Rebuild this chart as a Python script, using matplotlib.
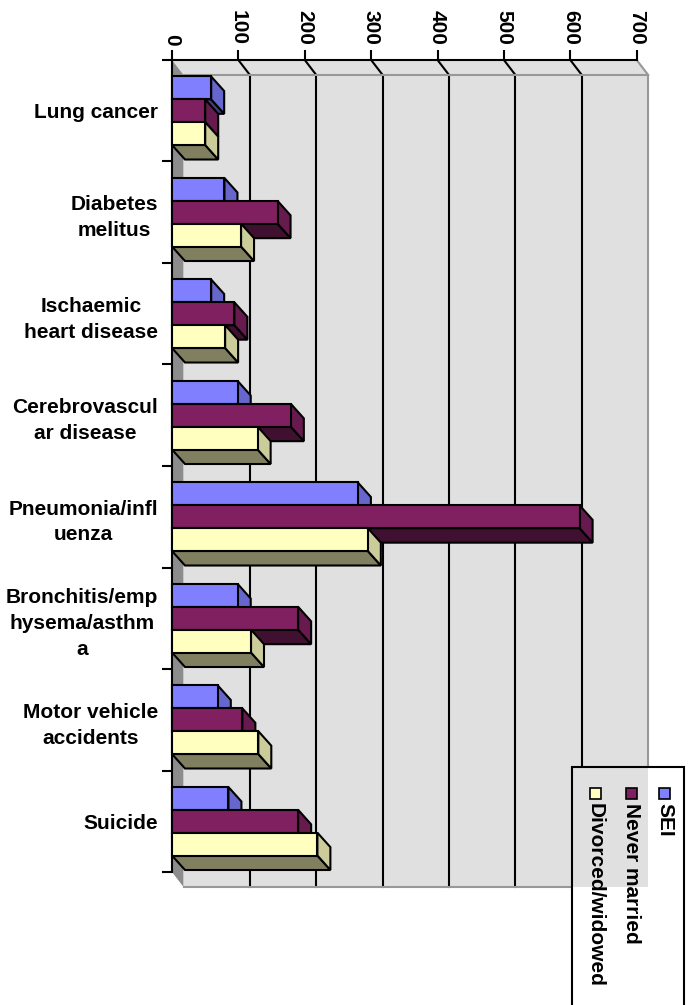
import matplotlib
matplotlib.use("Agg")
import matplotlib.pyplot as plt
from matplotlib.patches import Polygon, Rectangle
import numpy as np

# ---------------- data ----------------
categories = ["Lung cancer", "Diabetes\nmelitus", "Ischaemic\nheart disease",
              "Cerebrovascul\nar disease", "Pneumonia/infl\nuenza",
              "Bronchitis/emp\nhysema/asthm\na", "Motor vehicle\naccidents", "Suicide"]
series_names = ["SEI", "Never married", "Divorced/widowed"]
sei = [59, 79, 59, 99, 280, 99, 69, 85]
never_married = [50, 159, 94, 179, 614, 190, 106, 190]
divorced = [50, 104, 80, 129, 295, 119, 130, 219]
value_ticks = [0, 100, 200, 300, 400, 500, 600, 700]

# ---------------- style ----------------
plt.rcParams['font.family'] = ['Liberation Sans', 'DejaVu Sans']
plt.rcParams['font.weight'] = 'bold'
front_cols = ["#8080FF", "#802060", "#FFFFC0"]
side_cols = ["#6666CC", "#661A4D", "#CCCC9A"]
bottom_cols = ["#404080", "#401030", "#808060"]
wall_col = "#E0E0E0"
floor_col = "#8C8C8C"
edge_gray = "#989898"

W, H = 690, 1005
fig = plt.figure(figsize=(W / 100, H / 100), dpi=100)


def fx(px):
    return px / W


def fy(py):
    return 1 - py / H


left_px, right_px, top_px, bot_px = 172, 636.7, 60, 872
ax = fig.add_axes([fx(left_px), fy(bot_px), fx(right_px - left_px), (bot_px - top_px) / H])
ax.patch.set_visible(False)

n = len(categories)
vmax = value_ticks[-1]
ax.set_xlim(0, vmax)
ax.set_ylim(n - 0.5, -0.5)

# pixel -> data conversions for the 3D depth
ppx = (right_px - left_px) / vmax
ppy = (bot_px - top_px) / n
bdx, bdy = 13 / ppx, 14.5 / ppy      # bar depth
wdx, wdy = 11.5 / ppx, 15 / ppy      # wall depth

y_top, y_bot = -0.5, n - 0.5

# ---------------- walls ----------------
back_pts = [(wdx, y_top + wdy), (vmax + wdx, y_top + wdy), (vmax + wdx, y_bot + wdy), (wdx, y_bot + wdy)]
ax.add_patch(Polygon(back_pts, closed=True, facecolor=wall_col, edgecolor='none', zorder=0.5, clip_on=False))
ax.add_patch(Polygon([(0, y_top), (vmax, y_top), (vmax + wdx, y_top + wdy), (wdx, y_top + wdy)],
                     closed=True, facecolor=wall_col, edgecolor='none', zorder=0.5, clip_on=False))
ax.add_patch(Polygon([(0, y_top), (wdx, y_top + wdy), (wdx, y_bot + wdy), (0, y_bot)],
                     closed=True, facecolor=floor_col, edgecolor='none', zorder=0.6, clip_on=False))

for t in value_ticks[1:-1]:
    ax.plot([t + wdx, t + wdx], [y_top + wdy, y_bot + wdy], color='black', lw=1.5, zorder=1, clip_on=False)
    ax.plot([t, t + wdx], [y_top, y_top + wdy], color='black', lw=1.5, zorder=1, clip_on=False)

# wall edges (gray)
ax.plot([wdx, vmax + wdx, vmax + wdx, wdx], [y_top + wdy, y_top + wdy, y_bot + wdy, y_bot + wdy],
        color=edge_gray, lw=1.5, zorder=1.1, clip_on=False)
ax.plot([vmax, vmax + wdx], [y_top, y_top + wdy], color=edge_gray, lw=1.5, zorder=1.1, clip_on=False)

# ---------------- bars ----------------
h = 0.225
series = [sei, never_married, divorced]
ypos = np.arange(n)
for s, vals in enumerate(series):
    off = (s - 1) * h
    for k, v in enumerate(vals):
        y0 = k + off - h / 2
        y1 = y0 + h
        ax.add_patch(Polygon([(0, y1), (v, y1), (v + bdx, y1 + bdy), (bdx, y1 + bdy)], closed=True,
                             facecolor=bottom_cols[s], edgecolor='black', lw=1.5, zorder=3 + 2 * s,
                             clip_on=False, joinstyle='miter'))
        ax.add_patch(Polygon([(v, y0), (v + bdx, y0 + bdy), (v + bdx, y1 + bdy), (v, y1)], closed=True,
                             facecolor=side_cols[s], edgecolor='black', lw=1.5, zorder=3 + 2 * s,
                             clip_on=False, joinstyle='miter'))
    ax.barh(ypos + off, vals, height=h, left=0, color=front_cols[s], edgecolor='black',
            linewidth=1.5, zorder=4 + 2 * s, clip_on=False)

# ---------------- axes ----------------
for sp in ['right', 'bottom']:
    ax.spines[sp].set_visible(False)
for sp in ['left', 'top']:
    ax.spines[sp].set_linewidth(1.5)
    ax.spines[sp].set_zorder(2.5)

ax.xaxis.tick_top()
ax.set_xticks(value_ticks)
ax.set_xticklabels([str(t) for t in value_ticks])
ax.tick_params(axis='x', direction='out', length=7.2, width=1.5, pad=3.5, labelsize=15, labelrotation=-90)

ax.set_yticks(np.arange(n + 1) - 0.5)
ax.set_yticklabels([])
ax.set_yticks(ypos, minor=True)
ax.set_yticklabels(categories, minor=True)
ax.tick_params(axis='y', which='major', direction='out', length=7.2, width=1.5)
ax.tick_params(axis='y', which='minor', length=0, pad=10, labelsize=15)
for lbl in ax.get_yticklabels(minor=True):
    lbl.set_multialignment('center')
    lbl.set_linespacing(1.45)

# ---------------- legend (rotated, manual) ----------------
leg_l, leg_r, leg_t, leg_b = 572, 684, 767, 1020
leg_bg = Rectangle((fx(leg_l), fy(leg_b)), fx(leg_r - leg_l), (leg_b - leg_t) / H,
                   transform=fig.transFigure, facecolor='white', edgecolor='none', zorder=20, clip_on=False)
ax.add_patch(leg_bg)
overlay = Polygon(back_pts, closed=True, facecolor=wall_col, edgecolor='none', zorder=21)
ax.add_patch(overlay)
overlay.set_clip_path(leg_bg)
ax.add_patch(Rectangle((fx(leg_l), fy(leg_b)), fx(leg_r - leg_l), (leg_b - leg_t) / H,
                       transform=fig.transFigure, facecolor='none', edgecolor='black', lw=1.5,
                       zorder=22, clip_on=False))

item_x = [664.5, 631, 595.5]
sq = 11
for s, name in enumerate(series_names):
    cx = item_x[s]
    ax.add_patch(Rectangle((fx(cx - sq / 2), fy(788 + sq)), fx(sq), sq / H, transform=fig.transFigure,
                           facecolor=front_cols[s], edgecolor='black', lw=1.2, zorder=23, clip_on=False))
    ax.text(fx(cx), fy(803), name, transform=fig.transFigure, rotation=-90, ha='center', va='top',
            fontsize=15, fontweight='bold', zorder=23, clip_on=False)

fig.savefig("out.png", dpi=100)
